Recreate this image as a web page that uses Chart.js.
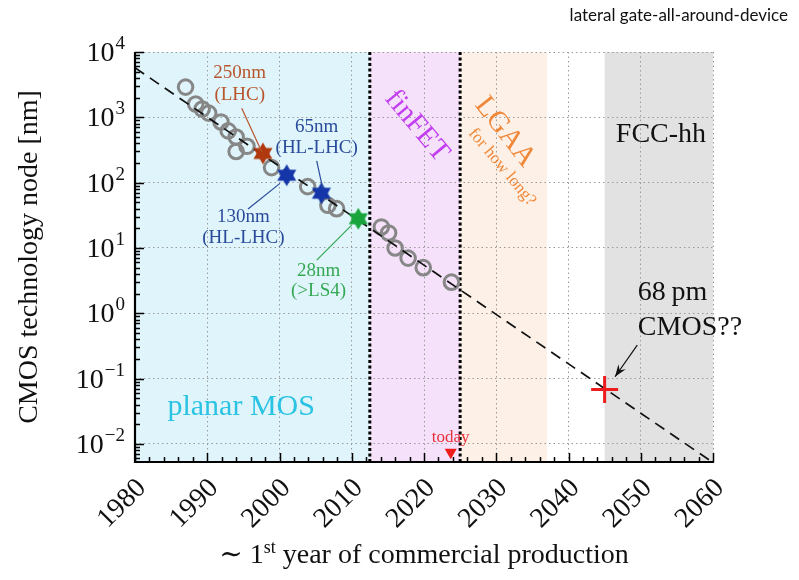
<!DOCTYPE html>
<html>
<head>
<meta charset="utf-8">
<script src="https://cdn.jsdelivr.net/npm/chart.js@4.4.1/dist/chart.umd.min.js"></script>
<style>
  html, body { margin: 0; padding: 0; background: #fff; }
</style>
</head>
<body>
<canvas id="chart" width="799" height="580"></canvas>
<script>
// node sizes (nm, log scale)
var nodeYears = [1987, 1988.4, 1989.3, 1990.2, 1991.9, 1992.9, 1994, 1994, 1995.5, 1998.9, 2003.9, 2006.7, 2007.9, 2014.1, 2015.1, 2016, 2017.8, 2019.9, 2023.8]
var nodeSizes = [2900, 1600, 1340, 1160, 850, 620, 500, 300, 360, 170, 87, 45, 40, 21, 17, 10, 7, 5, 3]

// nodes used by the LHC detectors (stars)
var lhcYears = [1997.7, 2001, 2005.8, 2010.9]
var lhcSizes = [280, 130, 69, 28]

// dashed scaling trend
var trendYears = [1980, 2060]
var trendSizes = [5740, 0.0052]

// technology eras (shaded bands) and their dotted borders
var eraStart = [1980, 2012.5, 2025, 2045]
var eraEnd = [2012.5, 2025, 2037, 2060]
var eraBorders = [2012.5, 2025]

// FCC-hh projection and "today" marker
var fccYears = [2045]
var fccSizes = [0.068]
var todayYears = [2023.7]
var todaySizes = [0.0075]

// axis range and tick labels
var yMin = 0.0053, yMax = 10000
var xTickYears = [1980, 1990, 2000, 2010, 2020, 2030, 2040, 2050, 2060]
var yTickPowers = [-2, -1, 0, 1, 2, 3, 4]

var serif = '"Liberation Serif", "DejaVu Serif", serif'
var eraColors = ['#dff5fb', '#f5e1fa', '#fdf0e6', '#e2e2e2']
var brown = '#b8552c', blue = '#2a4b9b', green = '#35a853'

var notes = [
  {text: '250nm', x: 1994.5, y: 4690, size: 19, color: brown},
  {text: '(LHC)', x: 1994.5, y: 2160, size: 19, color: brown},
  {text: '65nm', x: 2005.15, y: 718, size: 19, color: blue},
  {text: '(HL-LHC)', x: 2005.15, y: 335, size: 19, color: blue},
  {text: '130nm', x: 1995, y: 30, size: 19, color: blue},
  {text: '(HL-LHC)', x: 1995, y: 14, size: 19, color: blue},
  {text: '28nm', x: 2005.4, y: 4.46, size: 19, color: green},
  {text: '(>LS4)', x: 2005.4, y: 2.2, size: 19, color: green},
  {text: 'today', x: 2023.7, y: 0.0125, size: 17, color: '#e8303a'},
  {text: 'planar MOS', x: 1994.7, y: 0.0366, size: 30, color: '#2bc3e3'},
  {text: 'finFET', x: 2019, y: 736, size: 29, color: '#c23ef0', rot: 50},
  {text: 'LGAA', x: 2031.2, y: 596, size: 29, color: '#f0883a', rot: 52},
  {text: 'for how long?', x: 2030.8, y: 173, size: 17, color: '#f0883a', rot: 50},
  {text: 'FCC-hh', x: 2052.8, y: 536, size: 28, color: '#111'},
  {text: '68\u2009pm', x: 2049.6, y: 2.1, size: 28, color: '#111', align: 'left'},
  {text: 'CMOS??', x: 2049.6, y: 0.6, size: 28, color: '#111', align: 'left'}
]

var leaders = [
  {from: [1994.77, 1374], to: [1997.54, 297], color: brown},
  {from: [2005.15, 216], to: [2005.98, 82], color: blue},
  {from: [1995.64, 39.4], to: [2000.07, 97.5], color: blue},
  {from: [2005.15, 6.53], to: [2009.99, 22.4], color: green},
  {from: [2049.52, 0.326], to: [2046.44, 0.107], color: '#111', arrow: true}
]

function pts(xs, ys) {
  return xs.map(function (x, i) { return {x: x, y: ys[i]} })
}

// six pointed star used as point style
function hexagram(color, r) {
  var c = document.createElement('canvas')
  c.width = c.height = 2 * r + 2
  var g = c.getContext('2d')
  g.fillStyle = color
  ;[0, Math.PI].forEach(function (rot) {
    g.beginPath()
    for (var k = 0; k < 3; k++) {
      var a = rot - Math.PI / 2 + k * 2 * Math.PI / 3
      g.lineTo(r + 1 + r * Math.cos(a), r + 1 + r * Math.sin(a))
    }
    g.closePath()
    g.fill()
  })
  return c
}

var starImgs = [hexagram('#b0380f', 11), hexagram('#1536a8', 11), hexagram('#1536a8', 11), hexagram('#18a53c', 11)]

var datasets = eraBorders.map(function (yr) {
  return {
    data: pts([yr, yr], [yMin, yMax]), showLine: true, pointRadius: 0,
    borderColor: '#000', borderWidth: 3, borderDash: [3, 2.5], order: 6
  }
})
datasets.push({
  data: pts(nodeYears, nodeSizes), pointRadius: 7.3, pointBorderWidth: 3,
  pointBorderColor: '#878787', pointBackgroundColor: 'rgba(0,0,0,0)', order: 5
})
datasets.push({
  data: pts(trendYears, trendSizes), showLine: true, pointRadius: 0,
  borderColor: '#111', borderWidth: 1.7, borderDash: [11, 7], order: 4
})
datasets.push({
  data: pts(lhcYears, lhcSizes), pointStyle: starImgs, pointRadius: 11, order: 3
})
datasets.push({
  data: pts(fccYears, fccSizes), pointStyle: 'cross', pointRadius: 13.5,
  pointBorderWidth: 3, pointBorderColor: '#ee1c1c', order: 2
})
datasets.push({
  data: pts(todayYears, todaySizes), pointStyle: 'triangle', rotation: 180, pointRadius: 7,
  pointBackgroundColor: '#ee1c1c', pointBorderColor: '#ee1c1c', pointBorderWidth: 0, order: 1
})

function drawText(ctx, s, x, y, font, color, align, rot) {
  ctx.save()
  ctx.font = font
  ctx.fillStyle = color
  ctx.textAlign = align || 'center'
  ctx.textBaseline = 'middle'
  ctx.translate(x, y)
  if (rot) ctx.rotate(rot * Math.PI / 180)
  ctx.fillText(s, 0, 0)
  ctx.restore()
}

var decor = {
  id: 'decor',
  beforeDraw: function (chart) {
    var a = chart.chartArea, xs = chart.scales.x, ctx = chart.ctx
    ctx.save()
    eraStart.forEach(function (s, i) {
      var l = xs.getPixelForValue(s), r = xs.getPixelForValue(eraEnd[i])
      ctx.fillStyle = eraColors[i]
      ctx.fillRect(l, a.top, r - l, a.bottom - a.top)
    })
    ctx.restore()
  },
  afterDraw: function (chart) {
    var a = chart.chartArea, xs = chart.scales.x, ys = chart.scales.y, ctx = chart.ctx
    ctx.save()

    // leader lines
    leaders.forEach(function (d) {
      var x0 = xs.getPixelForValue(d.from[0]), y0 = ys.getPixelForValue(d.from[1])
      var x1 = xs.getPixelForValue(d.to[0]), y1 = ys.getPixelForValue(d.to[1])
      ctx.strokeStyle = d.color
      ctx.lineWidth = 1.2
      ctx.beginPath()
      ctx.moveTo(x0, y0)
      ctx.lineTo(x1, y1)
      ctx.stroke()
      if (d.arrow) {
        var ang = Math.atan2(y1 - y0, x1 - x0)
        ctx.fillStyle = d.color
        ctx.beginPath()
        ctx.moveTo(x1, y1)
        ctx.lineTo(x1 - 13 * Math.cos(ang - 0.35), y1 - 13 * Math.sin(ang - 0.35))
        ctx.lineTo(x1 - 8 * Math.cos(ang), y1 - 8 * Math.sin(ang))
        ctx.lineTo(x1 - 13 * Math.cos(ang + 0.35), y1 - 13 * Math.sin(ang + 0.35))
        ctx.closePath()
        ctx.fill()
      }
    })

    notes.forEach(function (n) {
      drawText(ctx, n.text, xs.getPixelForValue(n.x), ys.getPixelForValue(n.y),
        n.size + 'px ' + serif, n.color, n.align, n.rot)
    })

    // axis lines and inward ticks
    ctx.strokeStyle = '#000'
    ctx.lineWidth = 1.5
    ctx.beginPath()
    ys.ticks.forEach(function (t) {
      var py = Math.round(ys.getPixelForValue(t.value)) + 0.5
      ctx.moveTo(a.left, py)
      ctx.lineTo(a.left + (t.major ? 9 : 5), py)
    })
    xs.ticks.forEach(function (t) {
      var px = Math.round(xs.getPixelForValue(t.value)) + 0.5
      ctx.moveTo(px, a.bottom)
      ctx.lineTo(px, a.bottom - (t.major ? 9 : 5))
    })
    ctx.stroke()
    ctx.lineWidth = 2.2
    ctx.beginPath()
    ctx.moveTo(a.left, a.top)
    ctx.lineTo(a.left, a.bottom)
    ctx.lineTo(a.right + 1, a.bottom)
    ctx.stroke()

    // tick labels
    ctx.fillStyle = '#111'
    yTickPowers.forEach(function (p) {
      var py = ys.getPixelForValue(Math.pow(10, p))
      var sup = p < 0 ? '\u2212' + (-p) : String(p)
      ctx.font = '19px ' + serif
      var sw = ctx.measureText(sup).width
      var right = a.left - 10
      ctx.textBaseline = 'alphabetic'
      ctx.textAlign = 'left'
      ctx.fillText(sup, right - sw, py - 3)
      ctx.font = '28px ' + serif
      ctx.textAlign = 'right'
      ctx.fillText('10', right - sw - 1, py + 9)
    })
    xTickYears.forEach(function (yr) {
      drawText(ctx, String(yr), xs.getPixelForValue(yr) + 7, a.bottom + 22, '28px ' + serif, '#111', 'right', -45)
    })

    // axis titles
    drawText(ctx, 'CMOS technology node [nm]', 30, (a.top + a.bottom) / 2, '28px ' + serif, '#111', 'center', -90)
    var parts = [['\u223c 1', 28, 0], ['st', 18, -10], [' year of commercial production', 28, 0]]
    var total = 0
    parts.forEach(function (p) { ctx.font = p[1] + 'px ' + serif; total += ctx.measureText(p[0]).width })
    var cx = (a.left + a.right) / 2 - total / 2
    ctx.textAlign = 'left'
    ctx.textBaseline = 'alphabetic'
    parts.forEach(function (p) {
      ctx.font = p[1] + 'px ' + serif
      ctx.fillText(p[0], cx, 563 + p[2])
      cx += ctx.measureText(p[0]).width
    })

    // caption
    ctx.font = '17px Lato, "Liberation Sans", sans-serif'
    ctx.textAlign = 'right'
    ctx.fillText('lateral gate-all-around-device', 788, 21)
    ctx.restore()
  }
}

function majorOnly(c) {
  return c.tick && c.tick.major ? '#9a9a9a' : 'rgba(0,0,0,0)'
}

new Chart(document.getElementById('chart'), {
  type: 'scatter',
  data: {datasets: datasets},
  options: {
    responsive: false,
    animation: false,
    devicePixelRatio: 1,
    layout: {padding: {left: 135, right: 86, top: 52, bottom: 118}},
    plugins: {legend: {display: false}, tooltip: {enabled: false}},
    scales: {
      x: {
        type: 'linear', min: 1980, max: 2060,
        afterBuildTicks: function (s) {
          var t = []
          for (var v = 1980; v <= 2060; v += 2) t.push({value: v, major: v % 10 === 0})
          s.ticks = t
        },
        ticks: {display: false},
        grid: {drawTicks: false, color: majorOnly, lineWidth: 1},
        border: {display: false, dash: [1.5, 3]}
      },
      y: {
        type: 'logarithmic', min: yMin, max: yMax,
        afterBuildTicks: function (s) {
          var t = []
          for (var e = -3; e <= 4; e++) {
            for (var m = 1; m <= 9; m++) {
              var v = m * Math.pow(10, e)
              if (v >= yMin * 0.999 && v <= yMax * 1.001) t.push({value: v, major: m === 1})
            }
          }
          s.ticks = t
        },
        ticks: {display: false},
        grid: {drawTicks: false, color: majorOnly, lineWidth: 1},
        border: {display: false, dash: [1.5, 3]}
      }
    }
  },
  plugins: [decor]
})
</script>
</body>
</html>
